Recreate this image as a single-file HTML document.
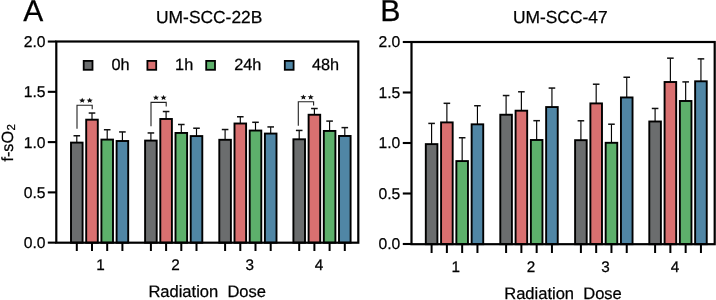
<!DOCTYPE html>
<html><head><meta charset="utf-8"><title>f-sO2 chart</title>
<style>
html,body{margin:0;padding:0;background:#fff;width:716px;height:300px;overflow:hidden}
svg{display:block;font-family:"Liberation Sans", sans-serif;will-change:transform;text-rendering:geometricPrecision}
text{stroke:#000;stroke-width:0.25px;paint-order:stroke}
</style></head><body>
<svg width="716" height="300" viewBox="0 0 716 300" fill="#000">
<line x1="76.8" y1="142.61" x2="76.8" y2="135.77" stroke="#000" stroke-width="1.15"/>
<line x1="73.5" y1="135.77" x2="80.1" y2="135.77" stroke="#111" stroke-width="1.5"/>
<rect x="71.00" y="142.61" width="11.60" height="100.09" fill="#6b6d6e" stroke="#000" stroke-width="1.9"/>
<line x1="76.8" y1="242.7" x2="76.8" y2="251" stroke="#000" stroke-width="2"/>
<line x1="92" y1="119.68" x2="92" y2="113.04" stroke="#000" stroke-width="1.15"/>
<line x1="88.7" y1="113.04" x2="95.3" y2="113.04" stroke="#111" stroke-width="1.5"/>
<rect x="86.20" y="119.68" width="11.60" height="123.02" fill="#d97070" stroke="#000" stroke-width="1.9"/>
<line x1="92" y1="242.7" x2="92" y2="251" stroke="#000" stroke-width="2"/>
<line x1="107.2" y1="139.59" x2="107.2" y2="129.73" stroke="#000" stroke-width="1.15"/>
<line x1="103.9" y1="129.73" x2="110.5" y2="129.73" stroke="#111" stroke-width="1.5"/>
<rect x="101.40" y="139.59" width="11.60" height="103.11" fill="#5db06b" stroke="#000" stroke-width="1.9"/>
<line x1="107.2" y1="242.7" x2="107.2" y2="251" stroke="#000" stroke-width="2"/>
<line x1="122.4" y1="141" x2="122.4" y2="131.94" stroke="#000" stroke-width="1.15"/>
<line x1="119.1" y1="131.94" x2="125.7" y2="131.94" stroke="#111" stroke-width="1.5"/>
<rect x="116.60" y="141.00" width="11.60" height="101.70" fill="#5086a5" stroke="#000" stroke-width="1.9"/>
<line x1="122.4" y1="242.7" x2="122.4" y2="251" stroke="#000" stroke-width="2"/>
<line x1="150.9" y1="140.59" x2="150.9" y2="132.95" stroke="#000" stroke-width="1.15"/>
<line x1="147.6" y1="132.95" x2="154.2" y2="132.95" stroke="#111" stroke-width="1.5"/>
<rect x="145.10" y="140.59" width="11.60" height="102.11" fill="#6b6d6e" stroke="#000" stroke-width="1.9"/>
<line x1="150.9" y1="242.7" x2="150.9" y2="251" stroke="#000" stroke-width="2"/>
<line x1="166.1" y1="118.98" x2="166.1" y2="111.53" stroke="#000" stroke-width="1.15"/>
<line x1="162.8" y1="111.53" x2="169.4" y2="111.53" stroke="#111" stroke-width="1.5"/>
<rect x="160.30" y="118.98" width="11.60" height="123.72" fill="#d97070" stroke="#000" stroke-width="1.9"/>
<line x1="166.1" y1="242.7" x2="166.1" y2="251" stroke="#000" stroke-width="2"/>
<line x1="181.3" y1="132.95" x2="181.3" y2="124.5" stroke="#000" stroke-width="1.15"/>
<line x1="178" y1="124.5" x2="184.6" y2="124.5" stroke="#111" stroke-width="1.5"/>
<rect x="175.50" y="132.95" width="11.60" height="109.75" fill="#5db06b" stroke="#000" stroke-width="1.9"/>
<line x1="181.3" y1="242.7" x2="181.3" y2="251" stroke="#000" stroke-width="2"/>
<line x1="196.5" y1="136.07" x2="196.5" y2="128.22" stroke="#000" stroke-width="1.15"/>
<line x1="193.2" y1="128.22" x2="199.8" y2="128.22" stroke="#111" stroke-width="1.5"/>
<rect x="190.70" y="136.07" width="11.60" height="106.63" fill="#5086a5" stroke="#000" stroke-width="1.9"/>
<line x1="196.5" y1="242.7" x2="196.5" y2="251" stroke="#000" stroke-width="2"/>
<line x1="225.1" y1="139.79" x2="225.1" y2="129.53" stroke="#000" stroke-width="1.15"/>
<line x1="221.8" y1="129.53" x2="228.4" y2="129.53" stroke="#111" stroke-width="1.5"/>
<rect x="219.30" y="139.79" width="11.60" height="102.91" fill="#6b6d6e" stroke="#000" stroke-width="1.9"/>
<line x1="225.1" y1="242.7" x2="225.1" y2="251" stroke="#000" stroke-width="2"/>
<line x1="240.3" y1="123.5" x2="240.3" y2="116.76" stroke="#000" stroke-width="1.15"/>
<line x1="237" y1="116.76" x2="243.6" y2="116.76" stroke="#111" stroke-width="1.5"/>
<rect x="234.50" y="123.50" width="11.60" height="119.20" fill="#d97070" stroke="#000" stroke-width="1.9"/>
<line x1="240.3" y1="242.7" x2="240.3" y2="251" stroke="#000" stroke-width="2"/>
<line x1="255.5" y1="130.54" x2="255.5" y2="122.29" stroke="#000" stroke-width="1.15"/>
<line x1="252.2" y1="122.29" x2="258.8" y2="122.29" stroke="#111" stroke-width="1.5"/>
<rect x="249.70" y="130.54" width="11.60" height="112.16" fill="#5db06b" stroke="#000" stroke-width="1.9"/>
<line x1="255.5" y1="242.7" x2="255.5" y2="251" stroke="#000" stroke-width="2"/>
<line x1="270.7" y1="133.56" x2="270.7" y2="126.92" stroke="#000" stroke-width="1.15"/>
<line x1="267.4" y1="126.92" x2="274" y2="126.92" stroke="#111" stroke-width="1.5"/>
<rect x="264.90" y="133.56" width="11.60" height="109.14" fill="#5086a5" stroke="#000" stroke-width="1.9"/>
<line x1="270.7" y1="242.7" x2="270.7" y2="251" stroke="#000" stroke-width="2"/>
<line x1="299.2" y1="139.29" x2="299.2" y2="130.44" stroke="#000" stroke-width="1.15"/>
<line x1="295.9" y1="130.44" x2="302.5" y2="130.44" stroke="#111" stroke-width="1.5"/>
<rect x="293.40" y="139.29" width="11.60" height="103.41" fill="#6b6d6e" stroke="#000" stroke-width="1.9"/>
<line x1="299.2" y1="242.7" x2="299.2" y2="251" stroke="#000" stroke-width="2"/>
<line x1="314.4" y1="114.75" x2="314.4" y2="108.52" stroke="#000" stroke-width="1.15"/>
<line x1="311.1" y1="108.52" x2="317.7" y2="108.52" stroke="#111" stroke-width="1.5"/>
<rect x="308.60" y="114.75" width="11.60" height="127.95" fill="#d97070" stroke="#000" stroke-width="1.9"/>
<line x1="314.4" y1="242.7" x2="314.4" y2="251" stroke="#000" stroke-width="2"/>
<line x1="329.6" y1="130.94" x2="329.6" y2="121.09" stroke="#000" stroke-width="1.15"/>
<line x1="326.3" y1="121.09" x2="332.9" y2="121.09" stroke="#111" stroke-width="1.5"/>
<rect x="323.80" y="130.94" width="11.60" height="111.76" fill="#5db06b" stroke="#000" stroke-width="1.9"/>
<line x1="329.6" y1="242.7" x2="329.6" y2="251" stroke="#000" stroke-width="2"/>
<line x1="344.8" y1="135.97" x2="344.8" y2="127.62" stroke="#000" stroke-width="1.15"/>
<line x1="341.5" y1="127.62" x2="348.1" y2="127.62" stroke="#111" stroke-width="1.5"/>
<rect x="339.00" y="135.97" width="11.60" height="106.73" fill="#5086a5" stroke="#000" stroke-width="1.9"/>
<line x1="344.8" y1="242.7" x2="344.8" y2="251" stroke="#000" stroke-width="2"/>
<rect x="56.3" y="41.5" width="302.0" height="201.2" fill="none" stroke="#000" stroke-width="2.2"/>
<line x1="47.8" y1="242.65" x2="56.3" y2="242.65" stroke="#000" stroke-width="2.1"/>
<text x="45.5" y="248.25" font-size="15.7" text-anchor="end">0.0</text>
<line x1="47.8" y1="192.38" x2="56.3" y2="192.38" stroke="#000" stroke-width="2.1"/>
<text x="45.5" y="197.97" font-size="15.7" text-anchor="end">0.5</text>
<line x1="47.8" y1="142.1" x2="56.3" y2="142.1" stroke="#000" stroke-width="2.1"/>
<text x="45.5" y="147.7" font-size="15.7" text-anchor="end">1.0</text>
<line x1="47.8" y1="91.83" x2="56.3" y2="91.83" stroke="#000" stroke-width="2.1"/>
<text x="45.5" y="97.43" font-size="15.7" text-anchor="end">1.5</text>
<line x1="47.8" y1="41.55" x2="56.3" y2="41.55" stroke="#000" stroke-width="2.1"/>
<text x="45.5" y="47.15" font-size="15.7" text-anchor="end">2.0</text>
<text x="100.6" y="269.6" font-size="15.3" text-anchor="middle">1</text>
<text x="175.5" y="269.6" font-size="15.3" text-anchor="middle">2</text>
<text x="249.8" y="269.6" font-size="15.3" text-anchor="middle">3</text>
<text x="319" y="269.6" font-size="15.3" text-anchor="middle">4</text>
<line x1="431.6" y1="144.12" x2="431.6" y2="123.41" stroke="#000" stroke-width="1.15"/>
<line x1="428.3" y1="123.41" x2="434.9" y2="123.41" stroke="#111" stroke-width="1.5"/>
<rect x="425.80" y="144.12" width="11.60" height="100.08" fill="#6b6d6e" stroke="#000" stroke-width="1.9"/>
<line x1="431.6" y1="244.2" x2="431.6" y2="253" stroke="#000" stroke-width="2"/>
<line x1="446.88" y1="122.4" x2="446.88" y2="103.31" stroke="#000" stroke-width="1.15"/>
<line x1="443.58" y1="103.31" x2="450.18" y2="103.31" stroke="#111" stroke-width="1.5"/>
<rect x="441.08" y="122.40" width="11.60" height="121.80" fill="#d97070" stroke="#000" stroke-width="1.9"/>
<line x1="446.88" y1="244.2" x2="446.88" y2="253" stroke="#000" stroke-width="2"/>
<line x1="462.16" y1="161.08" x2="462.16" y2="137.75" stroke="#000" stroke-width="1.15"/>
<line x1="458.86" y1="137.75" x2="465.46" y2="137.75" stroke="#111" stroke-width="1.5"/>
<rect x="456.36" y="161.08" width="11.60" height="83.12" fill="#5db06b" stroke="#000" stroke-width="1.9"/>
<line x1="462.16" y1="244.2" x2="462.16" y2="253" stroke="#000" stroke-width="2"/>
<line x1="477.44" y1="124.32" x2="477.44" y2="105.73" stroke="#000" stroke-width="1.15"/>
<line x1="474.14" y1="105.73" x2="480.74" y2="105.73" stroke="#111" stroke-width="1.5"/>
<rect x="471.64" y="124.32" width="11.60" height="119.88" fill="#5086a5" stroke="#000" stroke-width="1.9"/>
<line x1="477.44" y1="244.2" x2="477.44" y2="253" stroke="#000" stroke-width="2"/>
<line x1="506.1" y1="114.73" x2="506.1" y2="95.53" stroke="#000" stroke-width="1.15"/>
<line x1="502.8" y1="95.53" x2="509.4" y2="95.53" stroke="#111" stroke-width="1.5"/>
<rect x="500.30" y="114.73" width="11.60" height="129.47" fill="#6b6d6e" stroke="#000" stroke-width="1.9"/>
<line x1="506.1" y1="244.2" x2="506.1" y2="253" stroke="#000" stroke-width="2"/>
<line x1="521.38" y1="110.69" x2="521.38" y2="91.79" stroke="#000" stroke-width="1.15"/>
<line x1="518.08" y1="91.79" x2="524.68" y2="91.79" stroke="#111" stroke-width="1.5"/>
<rect x="515.58" y="110.69" width="11.60" height="133.51" fill="#d97070" stroke="#000" stroke-width="1.9"/>
<line x1="521.38" y1="244.2" x2="521.38" y2="253" stroke="#000" stroke-width="2"/>
<line x1="536.66" y1="139.98" x2="536.66" y2="120.68" stroke="#000" stroke-width="1.15"/>
<line x1="533.36" y1="120.68" x2="539.96" y2="120.68" stroke="#111" stroke-width="1.5"/>
<rect x="530.86" y="139.98" width="11.60" height="104.22" fill="#5db06b" stroke="#000" stroke-width="1.9"/>
<line x1="536.66" y1="244.2" x2="536.66" y2="253" stroke="#000" stroke-width="2"/>
<line x1="551.94" y1="107.05" x2="551.94" y2="88.06" stroke="#000" stroke-width="1.15"/>
<line x1="548.64" y1="88.06" x2="555.24" y2="88.06" stroke="#111" stroke-width="1.5"/>
<rect x="546.14" y="107.05" width="11.60" height="137.15" fill="#5086a5" stroke="#000" stroke-width="1.9"/>
<line x1="551.94" y1="244.2" x2="551.94" y2="253" stroke="#000" stroke-width="2"/>
<line x1="580.9" y1="140.18" x2="580.9" y2="120.78" stroke="#000" stroke-width="1.15"/>
<line x1="577.6" y1="120.78" x2="584.2" y2="120.78" stroke="#111" stroke-width="1.5"/>
<rect x="575.10" y="140.18" width="11.60" height="104.02" fill="#6b6d6e" stroke="#000" stroke-width="1.9"/>
<line x1="580.9" y1="244.2" x2="580.9" y2="253" stroke="#000" stroke-width="2"/>
<line x1="596.18" y1="103.41" x2="596.18" y2="84.22" stroke="#000" stroke-width="1.15"/>
<line x1="592.88" y1="84.22" x2="599.48" y2="84.22" stroke="#111" stroke-width="1.5"/>
<rect x="590.38" y="103.41" width="11.60" height="140.79" fill="#d97070" stroke="#000" stroke-width="1.9"/>
<line x1="596.18" y1="244.2" x2="596.18" y2="253" stroke="#000" stroke-width="2"/>
<line x1="611.46" y1="142.8" x2="611.46" y2="124.21" stroke="#000" stroke-width="1.15"/>
<line x1="608.16" y1="124.21" x2="614.76" y2="124.21" stroke="#111" stroke-width="1.5"/>
<rect x="605.66" y="142.80" width="11.60" height="101.40" fill="#5db06b" stroke="#000" stroke-width="1.9"/>
<line x1="611.46" y1="244.2" x2="611.46" y2="253" stroke="#000" stroke-width="2"/>
<line x1="626.74" y1="97.45" x2="626.74" y2="77.25" stroke="#000" stroke-width="1.15"/>
<line x1="623.44" y1="77.25" x2="630.04" y2="77.25" stroke="#111" stroke-width="1.5"/>
<rect x="620.94" y="97.45" width="11.60" height="146.75" fill="#5086a5" stroke="#000" stroke-width="1.9"/>
<line x1="626.74" y1="244.2" x2="626.74" y2="253" stroke="#000" stroke-width="2"/>
<line x1="655.1" y1="121.49" x2="655.1" y2="108.46" stroke="#000" stroke-width="1.15"/>
<line x1="651.8" y1="108.46" x2="658.4" y2="108.46" stroke="#111" stroke-width="1.5"/>
<rect x="649.30" y="121.49" width="11.60" height="122.71" fill="#6b6d6e" stroke="#000" stroke-width="1.9"/>
<line x1="655.1" y1="244.2" x2="655.1" y2="253" stroke="#000" stroke-width="2"/>
<line x1="670.38" y1="82" x2="670.38" y2="58.16" stroke="#000" stroke-width="1.15"/>
<line x1="667.08" y1="58.16" x2="673.68" y2="58.16" stroke="#111" stroke-width="1.5"/>
<rect x="664.58" y="82.00" width="11.60" height="162.20" fill="#d97070" stroke="#000" stroke-width="1.9"/>
<line x1="670.38" y1="244.2" x2="670.38" y2="253" stroke="#000" stroke-width="2"/>
<line x1="685.66" y1="100.99" x2="685.66" y2="81.9" stroke="#000" stroke-width="1.15"/>
<line x1="682.36" y1="81.9" x2="688.96" y2="81.9" stroke="#111" stroke-width="1.5"/>
<rect x="679.86" y="100.99" width="11.60" height="143.21" fill="#5db06b" stroke="#000" stroke-width="1.9"/>
<line x1="685.66" y1="244.2" x2="685.66" y2="253" stroke="#000" stroke-width="2"/>
<line x1="700.94" y1="81.29" x2="700.94" y2="58.87" stroke="#000" stroke-width="1.15"/>
<line x1="697.64" y1="58.87" x2="704.24" y2="58.87" stroke="#111" stroke-width="1.5"/>
<rect x="695.14" y="81.29" width="11.60" height="162.91" fill="#5086a5" stroke="#000" stroke-width="1.9"/>
<line x1="700.94" y1="244.2" x2="700.94" y2="253" stroke="#000" stroke-width="2"/>
<rect x="411.5" y="42" width="303.20000000000005" height="202.2" fill="none" stroke="#000" stroke-width="2.2"/>
<line x1="402.8" y1="244" x2="411.5" y2="244" stroke="#000" stroke-width="2.1"/>
<text x="400.3" y="249.4" font-size="15.7" text-anchor="end">0.0</text>
<line x1="402.8" y1="193.5" x2="411.5" y2="193.5" stroke="#000" stroke-width="2.1"/>
<text x="400.3" y="198.9" font-size="15.7" text-anchor="end">0.5</text>
<line x1="402.8" y1="143" x2="411.5" y2="143" stroke="#000" stroke-width="2.1"/>
<text x="400.3" y="148.4" font-size="15.7" text-anchor="end">1.0</text>
<line x1="402.8" y1="92.5" x2="411.5" y2="92.5" stroke="#000" stroke-width="2.1"/>
<text x="400.3" y="97.9" font-size="15.7" text-anchor="end">1.5</text>
<line x1="402.8" y1="42" x2="411.5" y2="42" stroke="#000" stroke-width="2.1"/>
<text x="400.3" y="47.4" font-size="15.7" text-anchor="end">2.0</text>
<text x="455.7" y="271.6" font-size="15.3" text-anchor="middle">1</text>
<text x="531.1" y="271.6" font-size="15.3" text-anchor="middle">2</text>
<text x="605.6" y="271.6" font-size="15.3" text-anchor="middle">3</text>
<text x="675" y="271.6" font-size="15.3" text-anchor="middle">4</text>
<polyline points="77,128.7 77,105.2 92.2,105.2 92.2,109.3" fill="none" stroke="#222" stroke-width="1.1"/>
<polyline points="151,126.2 151,102.4 166.2,102.4 166.2,106.5" fill="none" stroke="#222" stroke-width="1.1"/>
<polyline points="298.3,125.8 298.3,101.7 313.6,101.7 313.6,105.4" fill="none" stroke="#222" stroke-width="1.1"/>
<polygon points="82.20,97.70 83.08,99.46 85.29,99.64 83.63,100.90 84.11,102.76 82.20,101.79 80.29,102.76 80.77,100.90 79.11,99.64 81.32,99.46" fill="#111"/>
<polygon points="89.70,97.70 90.58,99.46 92.79,99.64 91.13,100.90 91.61,102.76 89.70,101.79 87.79,102.76 88.27,100.90 86.61,99.64 88.82,99.46" fill="#111"/>
<polygon points="155.95,94.91 156.83,96.66 159.04,96.84 157.38,98.10 157.86,99.96 155.95,98.99 154.04,99.96 154.52,98.10 152.86,96.84 155.07,96.66" fill="#111"/>
<polygon points="163.55,94.91 164.43,96.66 166.64,96.84 164.98,98.10 165.46,99.96 163.55,98.99 161.64,99.96 162.12,98.10 160.46,96.84 162.67,96.66" fill="#111"/>
<polygon points="303.40,94.41 304.28,96.16 306.49,96.34 304.83,97.60 305.31,99.46 303.40,98.49 301.49,99.46 301.97,97.60 300.31,96.34 302.52,96.16" fill="#111"/>
<polygon points="310.70,94.41 311.58,96.16 313.79,96.34 312.13,97.60 312.61,99.46 310.70,98.49 308.79,99.46 309.27,97.60 307.61,96.34 309.82,96.16" fill="#111"/>
<rect x="83.7" y="60.9" width="8.8" height="8.9" fill="#6b6d6e" stroke="#000" stroke-width="1.8"/>
<text x="111.5" y="70.4" font-size="16.3" text-anchor="start">0h</text>
<rect x="147.4" y="60.9" width="8.8" height="8.9" fill="#d97070" stroke="#000" stroke-width="1.8"/>
<text x="175.1" y="70.4" font-size="16.3" text-anchor="start">1h</text>
<rect x="206.2" y="60.9" width="8.8" height="8.9" fill="#5db06b" stroke="#000" stroke-width="1.8"/>
<text x="234.2" y="70.4" font-size="16.3" text-anchor="start">24h</text>
<rect x="284.8" y="60.9" width="8.8" height="8.9" fill="#5086a5" stroke="#000" stroke-width="1.8"/>
<text x="312" y="70.4" font-size="16.3" text-anchor="start">48h</text>
<text x="23.2" y="20.9" font-size="30" text-anchor="start">A</text>
<text x="380.2" y="21.4" font-size="30.3" text-anchor="start">B</text>
<text x="209.2" y="23.3" font-size="17.4" text-anchor="middle">UM-SCC-22B</text>
<text x="560.3" y="23.4" font-size="17.4" text-anchor="middle">UM-SCC-47</text>
<text x="207.2" y="296.8" font-size="16.55" text-anchor="middle">Radiation&#160;&#160;Dose</text>
<text x="563" y="298.8" font-size="16.55" text-anchor="middle">Radiation&#160;&#160;Dose</text>
<text transform="translate(12.6,161.6) rotate(-90)" font-size="16.2">f-sO<tspan font-size="11.5" dy="2.3" dx="0.6">2</tspan></text>
</svg>
</body></html>
